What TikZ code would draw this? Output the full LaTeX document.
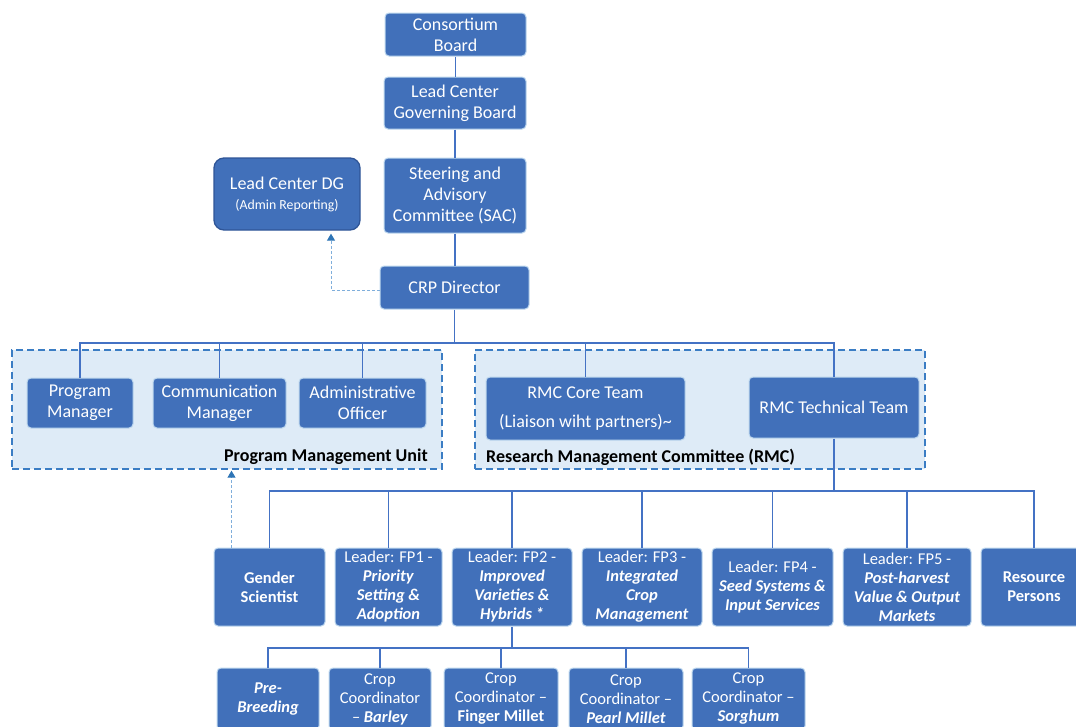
\documentclass[tikz,border=0pt]{standalone}
\usepackage{fontspec}
\setmainfont{Carlito}
\usetikzlibrary{arrows.meta,calc}
\definecolor{nodefill}{HTML}{4170BA}
\definecolor{nodeedge}{HTML}{BDD7EE}
\definecolor{linec}{HTML}{4472C4}
\definecolor{grpfill}{HTML}{DEEBF7}
\definecolor{grpedge}{HTML}{3B7DC4}
\definecolor{dashc}{HTML}{7FAEDB}
\definecolor{arrowc}{HTML}{2E75B6}
\definecolor{dgedge}{HTML}{2F5597}
\newcommand{\bi}[1]{\textbf{\textit{#1}}}
\tikzset{
  box/.style={rectangle, rounded corners=4pt, fill=nodefill, draw=nodeedge, line width=1pt,
    text=white, align=center, inner sep=0pt, font=\fontsize{18}{21}\selectfont},
  rowbox/.style={box, font=\fontsize{16.5}{19}\selectfont},
  conn/.style={draw=linec, line width=1.4pt},
  grp/.style={rectangle, fill=grpfill, draw=grpedge, line width=1.3pt, dash pattern=on 7pt off 4pt, inner sep=0pt},
  grplabel/.style={font=\fontsize{18}{21}\selectfont\bfseries, text=black, inner sep=0pt},
  dasharrow/.style={draw=dashc, line width=1pt, dash pattern=on 3pt off 2pt,
    -{Triangle[length=7pt,width=8pt,color=arrowc]}}
}
\begin{document}
\begin{tikzpicture}[x=1pt,y=-1pt]
\useasboundingbox (0,0) rectangle (1076,726);
\clip (0,0) rectangle (1076,726);
% groups
\node[grp, minimum width=430, minimum height=119] (pmu) at (227,409.5) {};
\node[grp, minimum width=450, minimum height=119] (rmc) at (700,409.5) {};
\node[grplabel, anchor=east] (pmul) at (428,457) {Program Management Unit};
\node[grplabel, anchor=west] (rmcl) at (486,457) {Research Management Committee (RMC)};
% top chain
\node[box, minimum width=141, minimum height=43] (cb) at (455.5,34.5) {Consortium\\Board};
\node[box, minimum width=142, minimum height=52] (lcgb) at (455,103) {Lead Center\\Governing Board};
\node[box, minimum width=142, minimum height=75] (sac) at (455,195.5) {Steering and\\Advisory\\Committee (SAC)};
\node[box, rounded corners=10pt, draw=dgedge, line width=1.3pt, minimum width=146, minimum height=72] (dg) at (287,194)
  {Lead Center DG\\[-1pt]{\fontsize{13.8}{16}\selectfont (Admin Reporting)}};
\node[box, minimum width=149, minimum height=43] (crp) at (454.5,287.5) {CRP Director};
% PMU and RMC members
\node[box, minimum width=106, minimum height=50] (pm) at (80,403) {Program\\Manager};
\node[box, minimum width=133, minimum height=50] (cm) at (219.5,403) {Communication\\Manager};
\node[box, minimum width=127, minimum height=50] (ao) at (362.5,403) {Administrative\\Officer};
\node[box, minimum width=199, minimum height=63] (core) at (585.5,408.5) {RMC Core Team\\[8pt](Liaison wiht partners)\textasciitilde};
\node[box, minimum width=170, minimum height=61] (tech) at (834,407.5) {RMC Technical Team};
% row 2
\node[rowbox, minimum width=111, minimum height=78] (gs) at (269.5,587) {\textbf{Gender}\\\textbf{Scientist}};
\node[rowbox, minimum width=107, minimum height=78] (fp1) at (388.5,587) {Leader: FP1 -\\\bi{Priority}\\\bi{Setting \&}\\\bi{Adoption}};
\node[rowbox, minimum width=120, minimum height=78] (fp2) at (512,587) {Leader: FP2 -\\\bi{Improved}\\\bi{Varieties \&}\\\bi{Hybrids *}};
\node[rowbox, minimum width=120, minimum height=78] (fp3) at (642,587) {Leader: FP3 -\\\bi{Integrated}\\\bi{Crop}\\\bi{Management}};
\node[rowbox, minimum width=121, minimum height=78] (fp4) at (772.5,587) {Leader: FP4 -\\\bi{Seed Systems \&}\\\bi{Input Services}};
\node[rowbox, minimum width=128, minimum height=78] (fp5) at (907,587) {Leader: FP5 -\\\bi{Post-harvest}\\\bi{Value \& Output}\\\bi{Markets}};
\node[rowbox, minimum width=106, minimum height=78] (rp) at (1034,587) {\textbf{Resource}\\\textbf{Persons}};
% row 3
\node[rowbox, minimum width=102, minimum height=62] (pb) at (268,699) {\bi{Pre-}\\\bi{Breeding}};
\node[rowbox, minimum width=102, minimum height=62] (ba) at (380,699) {Crop\\Coordinator\\– \bi{Barley}};
\node[rowbox, minimum width=114, minimum height=62] (fm) at (501,699) {Crop\\Coordinator –\\\textbf{Finger Millet}};
\node[rowbox, minimum width=114, minimum height=62] (pl) at (626,699) {Crop\\Coordinator –\\\bi{Pearl Millet}};
\node[rowbox, minimum width=113, minimum height=62] (so) at (748.5,699) {Crop\\Coordinator –\\\bi{Sorghum}};
% bus coordinates
\coordinate (bus1) at (455,343);
\coordinate (bus2) at (834,491);
\coordinate (bus3) at (512,648);
% connectors
\draw[conn] (cb.south) -- (cb.south |- lcgb.north);
\draw[conn] (lcgb.south) -- (lcgb.south |- sac.north);
\draw[conn] (sac.south) -- (sac.south |- crp.north);
\draw[conn] (crp.south) -- (crp.south |- bus1);
\foreach \n in {pm,cm,ao,core,tech} \draw[conn] (crp.south |- bus1) -| (\n.north);
\draw[conn] (tech.south) -- (tech.south |- bus2);
\foreach \n in {gs,fp1,fp2,fp3,fp4,fp5,rp} \draw[conn] (tech.south |- bus2) -| (\n.north);
\draw[conn] (fp2.south) -- (fp2.south |- bus3);
\foreach \n in {pb,ba,fm,pl,so} \draw[conn] (fp2.south |- bus3) -| (\n.north);
% dashed reporting arrows
\draw[dasharrow] ([yshift=-2.5pt]crp.west) -| ([xshift=44pt,yshift=-3pt]dg.south);
\draw[dasharrow] ([xshift=18pt]gs.north west) -- ([xshift=18pt,yshift=-1pt]gs.north west |- pmu.south);
\end{tikzpicture}
\end{document}
